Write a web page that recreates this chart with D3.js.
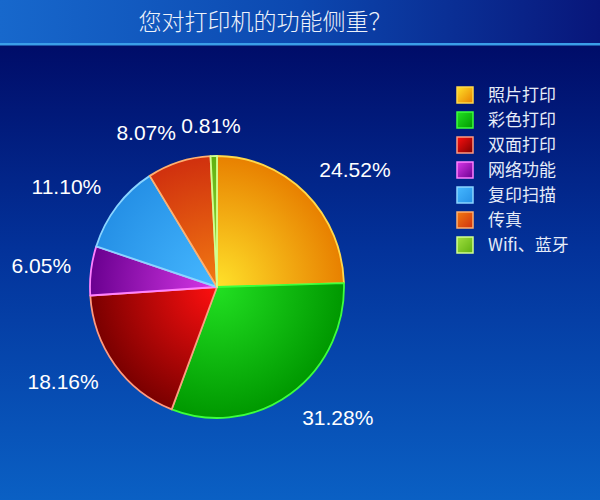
<!DOCTYPE html>
<html>
<head>
<meta charset="utf-8">
<script src="https://cdn.jsdelivr.net/npm/d3@7"></script>
<style>
html,body{margin:0;padding:0;background:#000e6b;}
svg{display:block;}
</style>
</head>
<body>
<svg id="chart" width="600" height="500"></svg>
<script>
const title = "您对打印机的功能侧重？";
const categories = ["照片打印", "彩色打印", "双面打印", "网络功能", "复印扫描", "传真", "Wifi、蓝牙"];
const values = [24.52, 31.28, 18.16, 6.05, 11.10, 8.07, 0.81];
const valueLabels = ["24.52%", "31.28%", "18.16%", "6.05%", "11.10%", "8.07%", "0.81%"];
// [inner light, outer dark, stroke]
const sliceColors = [
  ["#ffe22a", "#e88000", "#ffd84a"],
  ["#22e022", "#009800", "#3cff3c"],
  ["#ff1010", "#7a0000", "#ff9a80"],
  ["#d838e8", "#6a0090", "#ff80ff"],
  ["#46b8ff", "#2590e6", "#8ad4ff"],
  ["#f27a12", "#d0300e", "#ffb070"],
  ["#a0e040", "#60b010", "#d0ff90"]
];

const W = 600, H = 500;
const cx = 217, cy = 287, R = 127, sy = 131 / 127;
const svg = d3.select("#chart");
const defs = svg.append("defs");

// background
const bg = defs.append("linearGradient").attr("id", "bg").attr("x1", 0).attr("y1", 0).attr("x2", 0).attr("y2", 1);
bg.append("stop").attr("offset", "0%").attr("stop-color", "#000c68");
bg.append("stop").attr("offset", "45%").attr("stop-color", "#03329a");
bg.append("stop").attr("offset", "100%").attr("stop-color", "#0a60c4");
svg.append("rect").attr("x", 0).attr("y", 44).attr("width", W).attr("height", H - 44).attr("fill", "url(#bg)");

// title bar
const tg = defs.append("linearGradient").attr("id", "tg").attr("x1", 0).attr("y1", 0).attr("x2", 1).attr("y2", 0);
tg.append("stop").attr("offset", "0%").attr("stop-color", "#1768cc");
tg.append("stop").attr("offset", "50%").attr("stop-color", "#0c48b0");
tg.append("stop").attr("offset", "100%").attr("stop-color", "#08167a");
svg.append("rect").attr("x", 0).attr("y", 0).attr("width", W).attr("height", 44).attr("fill", "url(#tg)");
svg.append("rect").attr("x", 0).attr("y", 43).attr("width", W).attr("height", 2.5).attr("fill", "#3a9ee8");
svg.append("text").attr("x", 265).attr("y", 30)
  .attr("text-anchor", "middle")
  .attr("font-family", "'Noto Sans CJK SC', sans-serif")
  .attr("font-weight", 300)
  .attr("font-size", 23)
  .attr("fill", "#eef2fa")
  .text(title);

// slice gradients (relative to pie group origin)
sliceColors.forEach((c, i) => {
  const g = defs.append("radialGradient").attr("id", "sg" + i)
    .attr("gradientUnits", "userSpaceOnUse")
    .attr("cx", 0).attr("cy", 0).attr("r", R).attr("fx", 0).attr("fy", 0);
  g.append("stop").attr("offset", "0%").attr("stop-color", c[0]);
  g.append("stop").attr("offset", "100%").attr("stop-color", c[1]);
  const lg = defs.append("linearGradient").attr("id", "lg" + i).attr("x1", 0).attr("y1", 0).attr("x2", 1).attr("y2", 1);
  lg.append("stop").attr("offset", "0%").attr("stop-color", c[0]);
  lg.append("stop").attr("offset", "100%").attr("stop-color", c[1]);
});

const data = categories.map((name, i) => ({ name, value: values[i], label: valueLabels[i], i }));
const pie = d3.pie().value(d => d.value).sort(null);
const arcs = pie(data);
const arc = d3.arc().innerRadius(0).outerRadius(R);

const gPie = svg.append("g").attr("transform", `translate(${cx},${cy}) scale(1,${sy})`);
gPie.selectAll("path.slice").data(arcs).enter().append("path")
  .attr("class", "slice")
  .attr("d", arc)
  .attr("fill", d => `url(#sg${d.data.i})`)
  .attr("stroke", d => sliceColors[d.data.i][2])
  .attr("stroke-width", 1.8)
  .attr("stroke-linejoin", "round");

// labels
const labelArc = d3.arc().innerRadius(R + 20).outerRadius(R + 20);
const fs = 21;
const labels = svg.append("g")
  .attr("font-family", "'Liberation Sans', Arial, sans-serif")
  .attr("font-size", fs)
  .attr("fill", "#ffffff");
arcs.forEach(d => {
  const [px, py] = labelArc.centroid(d);
  const a = (d.startAngle + d.endAngle) / 2;
  const t = labels.append("text").text(d.data.label);
  const w = t.node().getComputedTextLength();
  const h = fs * 0.8;
  const kx = Math.max(-1, Math.min(1, Math.sin(a) * 3));
  const ky = Math.max(-1, Math.min(1, -Math.cos(a) * 1.2));
  const x = cx + px + kx * w / 2;
  const y = cy + py * sy + ky * h / 2 - 2;
  t.attr("x", x).attr("y", y + h / 2).attr("text-anchor", "middle");
});

// legend
const legend = svg.append("g").attr("transform", "translate(457,95)");
const y = d3.scalePoint().domain(categories).range([0, 150]);
const rows = legend.selectAll("g.row").data(data).enter().append("g")
  .attr("class", "row")
  .attr("transform", d => `translate(0,${y(d.name)})`);
rows.append("rect").attr("x", 0).attr("y", -8).attr("width", 16).attr("height", 16)
  .attr("fill", d => `url(#lg${d.i})`)
  .attr("stroke", d => sliceColors[d.i][2]).attr("stroke-width", 1.5);
rows.append("text").attr("x", 31).attr("y", 6)
  .attr("font-family", "'Noto Sans CJK SC', 'Liberation Sans', sans-serif")
  .attr("font-size", 17)
  .attr("fill", "#e6ecf8")
  .text(d => d.name);
</script>
</body>
</html>
